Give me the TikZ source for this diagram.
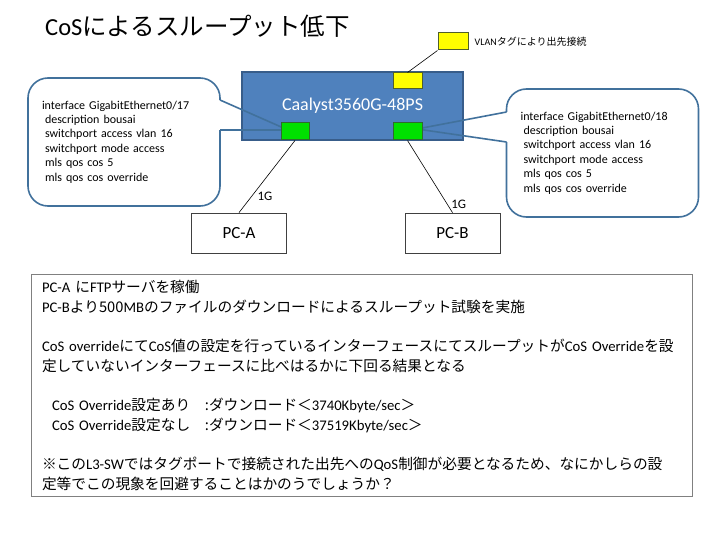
\documentclass[tikz,border=0pt]{standalone}
\usepackage{fontspec}
\setmainfont{Carlito}
\newfontfamily\jpfont{Noto Sans CJK JP}
\newcommand\jp[1]{{\jpfont #1}}
\usepackage{tikz}
\usetikzlibrary{positioning,calc}
\usepackage{xcolor}
\definecolor{swfill}{HTML}{4F81BD}
\definecolor{swedge}{HTML}{385D8A}
\definecolor{portfill}{HTML}{00E000}
\definecolor{portedge}{HTML}{2E6B2E}
\definecolor{tagfill}{HTML}{FFFF00}
\definecolor{tagedge}{HTML}{4F5F2A}
\definecolor{bubble}{HTML}{41719C}
\definecolor{frame}{HTML}{808080}

\tikzset{
  switchbox/.style={draw=swedge, fill=swfill, line width=1.2pt, minimum width=221pt, minimum height=68pt, text=white, font=\fontsize{18}{20}\selectfont},
  portbox/.style={draw=portedge, fill=portfill, line width=1pt, minimum width=28pt, minimum height=17pt, inner sep=0pt},
  tagbox/.style={draw=tagedge, fill=tagfill, line width=1pt, minimum width=29pt, minimum height=16pt, inner sep=0pt},
  pcbox/.style={draw=black!75, line width=0.8pt, minimum width=95pt, minimum height=40pt, font=\fontsize{17}{20}\selectfont},
  bubblebox/.style={draw=bubble, line width=1.6pt, rounded corners=20pt, minimum width=192pt, minimum height=128pt, align=left, text width=164pt, inner xsep=14pt, font=\fontsize{12}{14.4}\selectfont},
  bubbleline/.style={draw=bubble, line width=1.6pt, line join=miter},
  link/.style={draw=black, line width=0.6pt},
  speed/.style={font=\fontsize{13}{15}\selectfont, inner sep=1pt},
  notebox/.style={draw=frame, line width=1pt, minimum width=661pt, minimum height=222pt, text width=640pt, inner xsep=10.5pt, align=left, font=\fontsize{14.7}{20}\selectfont}
}

\begin{document}
\begin{tikzpicture}[x=1pt, y=-1pt]
\useasboundingbox (0,0) rectangle (720,540);
\fill[white] (0,0) rectangle (720,540);

\node[anchor=base west, inner sep=0pt, font=\fontsize{24.5}{28}\selectfont] (title) at (45,36) {CoS\jp{によるスループット低下}};

\node[switchbox] (sw) at (352.5,106) {Caalyst3560G-48PS};

\node[bubblebox] (bubbleA) at (124,142) {interface GigabitEthernet0/17\\
\hspace*{3pt}description bousai\\
\hspace*{3pt}switchport access vlan 16\\
\hspace*{3pt}switchport mode access\\
\hspace*{3pt}mls qos cos 5\\
\hspace*{3pt}mls qos cos override};
\node[bubblebox, inner xsep=13.5pt] (bubbleB) at (602.5,153) {interface GigabitEthernet0/18\\
\hspace*{3pt}description bousai\\
\hspace*{3pt}switchport access vlan 16\\
\hspace*{3pt}switchport mode access\\
\hspace*{3pt}mls qos cos 5\\
\hspace*{3pt}mls qos cos override};

\coordinate (tipA) at (288,130);
\coordinate (baseA1) at (220,100);
\coordinate (baseA2) at (220,130);
\coordinate (tipB) at (417,129);
\coordinate (baseB1) at (506.5,112);
\coordinate (baseB2) at (506.5,142);
\fill[white] ([xshift=-1.5pt]baseA1) rectangle ([xshift=1.5pt]baseA2);
\fill[white] ([xshift=-1.5pt]baseB1) rectangle ([xshift=1.5pt]baseB2);
\draw[bubbleline] (baseA1) -- (tipA) -- (baseA2);
\draw[bubbleline] (baseB1) -- (tipB) -- (baseB2);

\node[tagbox] (vlanport) at (407.5,81) {};
\node[portbox] (portA) at (295,131.5) {};
\node[portbox, minimum width=29pt] (portB) at (407.5,131.5) {};

\node[tagbox, minimum width=30pt, minimum height=17pt] (tag) at (453,41.5) {};
\node[right=6pt of tag, inner sep=0pt, font=\fontsize{10}{12}\selectfont] (taglabel) {VLAN\jp{タグにより出先接続}};
\draw[link] (tag.south west) -- (vlanport.north);

\node[pcbox] (pcA) at (239,233) {PC-A};
\node[pcbox] (pcB) at (452.5,233) {PC-B};
\draw[link] (portA.south) -- (pcA.north) node[speed, pos=0.78, right=5pt] {1G};
\draw[link] (portB.south) -- (pcB.north) node[speed, pos=0.88, right=3pt] {1G};

\node[notebox, anchor=north west] (note) at (31,274) {PC-A \jp{に}FTP\jp{サーバを稼働}\\
PC-B\jp{より500}MB\jp{のファイルのダウンロードによるスループット試験を実施}\\[19pt]
CoS override\jp{にて}CoS\jp{値の設定を行っているインターフェースにてスループットが}CoS Override\jp{を設}\\
\jp{定していないインターフェースに比べはるかに下回る結果となる}\\[19pt]
\hspace*{10pt}CoS Override\jp{設定あり　:ダウンロード＜}3740Kbyte/sec\jp{＞}\\
\hspace*{10pt}CoS Override\jp{設定なし　:ダウンロード＜}37519Kbyte/sec\jp{＞}\\[19pt]
\jp{※この}L3-SW\jp{ではタグポートで接続された出先への}QoS\jp{制御が必要となるため、なにかしらの設}\\
\jp{定等でこの現象を回避することはかのうでしょうか？}};
\end{tikzpicture}
\end{document}
